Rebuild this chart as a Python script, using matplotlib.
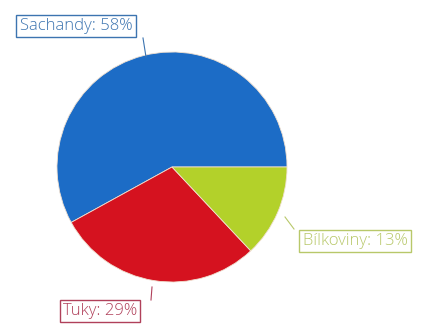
import matplotlib.pyplot as plt

labels = ["Sachandy", "Tuky", "Bílkoviny"]
shares = [58, 29, 13]
colors = ["#1c6cc6", "#d5121f", "#b3d12a"]
text_colors = ["#3c74b0", "#b0405a", "#b8c86a"]

fig = plt.figure(figsize=(4.21, 3.27), dpi=100)
ax = fig.add_axes([0, 0, 1, 1])

wedges, _ = ax.pie(shares, colors=colors, startangle=0, counterclock=True,
                   center=(172, 160), radius=115,
                   wedgeprops=dict(edgecolor="#f0e0d0", linewidth=0.6))
ax.set_xlim(0, 421)
ax.set_ylim(0, 327)
ax.set_aspect("equal")
ax.axis("off")

# label box centre, leader start (at box) and end (on the pie)
label_pos = [(76, 301), (100, 16), (355, 86)]
leader_start = [(143, 289), (151, 27), (294, 98)]
leader_end = [(146, 270), (152, 40), (285, 110)]

for i, lab in enumerate(labels):
    ax.plot([leader_start[i][0], leader_end[i][0]],
            [leader_start[i][1], leader_end[i][1]],
            color=text_colors[i], lw=0.8)
    ax.text(label_pos[i][0], label_pos[i][1], f"{lab}: {shares[i]}%",
            ha="center", va="center", fontsize=12, color=text_colors[i],
            family="Open Sans", fontweight="light",
            bbox=dict(boxstyle="square,pad=0.2", fc="white",
                      ec=text_colors[i], lw=1))

fig.savefig("out.png", dpi=100)
